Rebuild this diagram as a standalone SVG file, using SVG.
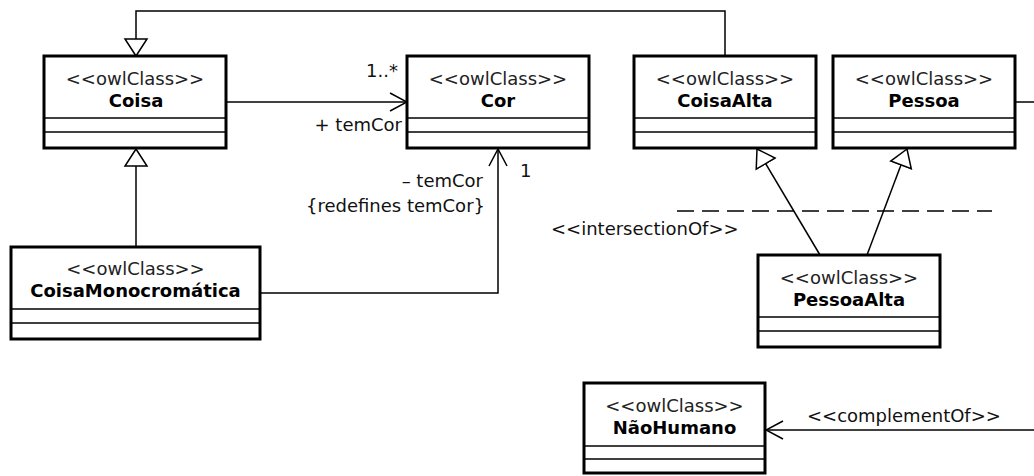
<svg xmlns="http://www.w3.org/2000/svg" width="1034" height="476" viewBox="0 0 1034 476">
<style>
.box{fill:#fff;stroke:#000;stroke-width:3}
.sep{stroke:#000;stroke-width:1.5}
.st{font-family:"DejaVu Sans",sans-serif;font-size:18px;fill:#222;text-anchor:middle}
.nm{font-family:"DejaVu Sans",sans-serif;font-size:18px;font-weight:bold;fill:#000;text-anchor:middle}
.lbl{font-family:"DejaVu Sans",sans-serif;font-size:18px;fill:#111}
.ln{fill:none;stroke:#000;stroke-width:1.5}
</style>
<defs>
<marker id="gen" markerUnits="userSpaceOnUse" viewBox="-1 -13 20 26" refX="17" refY="0" markerWidth="20" markerHeight="26" orient="auto">
<path d="M17,0 L0,-11 L0,11 Z" fill="#fff" stroke="#000" stroke-width="1.5"/>
</marker>
<marker id="open" markerUnits="userSpaceOnUse" viewBox="-1 -11 19 22" refX="17" refY="0" markerWidth="19" markerHeight="22" orient="auto">
<path d="M0,-9 L17,0 L0,9" fill="none" stroke="#000" stroke-width="1.5"/>
</marker>
</defs>
<g id="connectors">
<path class="ln" d="M725,56 L725,11 L136,11 L136,56" marker-end="url(#gen)"/>
<path class="ln" d="M136,247 L136,149" marker-end="url(#gen)"/>
<path class="ln" d="M226,102 L407,102" marker-end="url(#open)"/>
<path class="ln" d="M260,293 L498,293 L498,149" marker-end="url(#open)"/>
<path class="ln" d="M820,255 L757,149" marker-end="url(#gen)"/>
<path class="ln" d="M867,255 L907,149" marker-end="url(#gen)"/>
<path class="ln" d="M1015,102 L1034,102"/>
<path class="ln" d="M1034,430 L766,430" marker-end="url(#open)"/>
<line x1="677" y1="211" x2="992" y2="211" stroke="#000" stroke-width="1.5" stroke-dasharray="17 8"/>
<text class="lbl" x="366" y="77">1..*</text>
<text class="lbl" x="402" y="131" text-anchor="end">+ temCor</text>
<text class="lbl" x="520" y="177">1</text>
<text class="lbl" x="483" y="187" text-anchor="end">– temCor</text>
<text class="lbl" x="485" y="212" text-anchor="end">{redefines temCor}</text>
<text class="lbl" x="551" y="235">&lt;&lt;intersectionOf&gt;&gt;</text>
<text class="lbl" x="807" y="422">&lt;&lt;complementOf&gt;&gt;</text>
</g>
<g id="Coisa">
<rect class="box" x="44" y="56" width="182" height="92"/>
<line class="sep" x1="44" y1="118" x2="226" y2="118"/>
<line class="sep" x1="44" y1="132" x2="226" y2="132"/>
<text class="st" x="135" y="85">&lt;&lt;owlClass&gt;&gt;</text>
<text class="nm" x="136" y="107">Coisa</text>
</g>
<g id="Cor">
<rect class="box" x="407" y="56" width="182" height="92"/>
<line class="sep" x1="407" y1="118" x2="589" y2="118"/>
<line class="sep" x1="407" y1="132" x2="589" y2="132"/>
<text class="st" x="498" y="85">&lt;&lt;owlClass&gt;&gt;</text>
<text class="nm" x="498" y="107">Cor</text>
</g>
<g id="CoisaAlta">
<rect class="box" x="634" y="56" width="182" height="92"/>
<line class="sep" x1="634" y1="118" x2="816" y2="118"/>
<line class="sep" x1="634" y1="132" x2="816" y2="132"/>
<text class="st" x="725" y="85">&lt;&lt;owlClass&gt;&gt;</text>
<text class="nm" x="725" y="107">CoisaAlta</text>
</g>
<g id="Pessoa">
<rect class="box" x="833" y="56" width="182" height="92"/>
<line class="sep" x1="833" y1="118" x2="1015" y2="118"/>
<line class="sep" x1="833" y1="132" x2="1015" y2="132"/>
<text class="st" x="924" y="85">&lt;&lt;owlClass&gt;&gt;</text>
<text class="nm" x="924" y="107">Pessoa</text>
</g>
<g id="CoisaMonocromatica">
<rect class="box" x="11" y="247" width="249" height="92"/>
<line class="sep" x1="11" y1="309" x2="260" y2="309"/>
<line class="sep" x1="11" y1="323" x2="260" y2="323"/>
<text class="st" x="135.5" y="275">&lt;&lt;owlClass&gt;&gt;</text>
<text class="nm" x="135.5" y="297">CoisaMonocromática</text>
</g>
<g id="PessoaAlta">
<rect class="box" x="758" y="255" width="182" height="92"/>
<line class="sep" x1="758" y1="317" x2="940" y2="317"/>
<line class="sep" x1="758" y1="331" x2="940" y2="331"/>
<text class="st" x="849" y="284">&lt;&lt;owlClass&gt;&gt;</text>
<text class="nm" x="849" y="306">PessoaAlta</text>
</g>
<g id="NaoHumano">
<rect class="box" x="584" y="383" width="181" height="90"/>
<line class="sep" x1="584" y1="446" x2="765" y2="446"/>
<line class="sep" x1="584" y1="459" x2="765" y2="459"/>
<text class="st" x="674.5" y="412">&lt;&lt;owlClass&gt;&gt;</text>
<text class="nm" x="674.5" y="434">NãoHumano</text>
</g>
</svg>
